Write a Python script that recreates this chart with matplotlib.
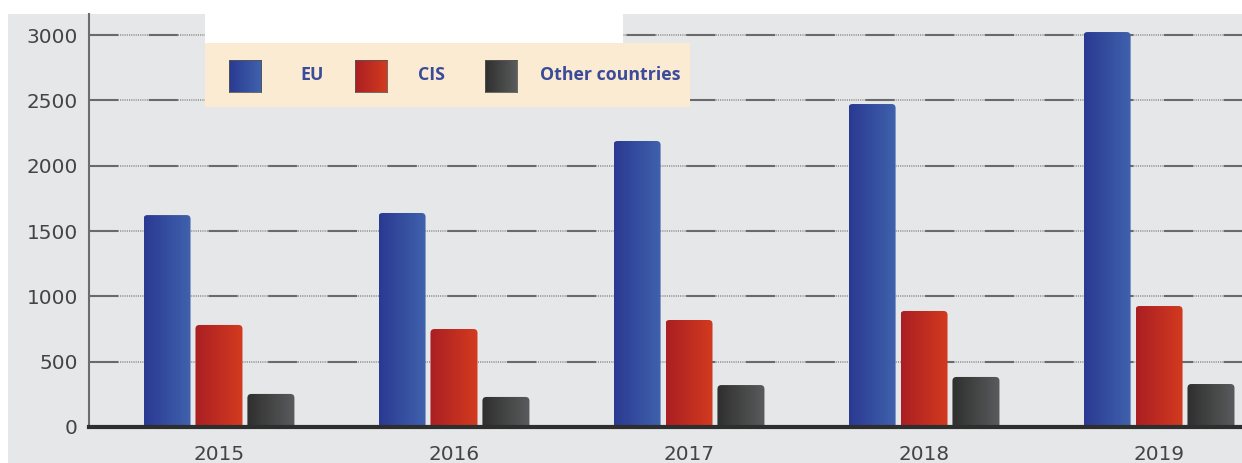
import numpy as np
import matplotlib
matplotlib.use("Agg")
import matplotlib.pyplot as plt
from matplotlib.patches import Rectangle, FancyBboxPatch
from matplotlib.colors import LinearSegmentedColormap

plt.rcParams['lines.scale_dashes'] = False

years = ['2015', '2016', '2017', '2018', '2019']
eu = [1622, 1638, 2189, 2472, 3023]
cis = [781, 750, 819, 888, 926]
other = [253, 230, 321, 383, 329]

series = [
    ('EU', eu, ('#2a3a92', '#4062ad')),
    ('CIS', cis, ('#ab1f23', '#d33b1f')),
    ('Other countries', other, ('#2f2f2f', '#5a5b5c')),
]

W, H = 1242, 463
fig = plt.figure(figsize=(W / 100, H / 100), dpi=100)
fig.patch.set_facecolor('white')


def frect(x0, y0, x1, y1):
    # pixel box (top-left origin) -> figure fraction
    return [x0 / W, 1 - y1 / H, (x1 - x0) / W, (y1 - y0) / H]


# grey panel behind the chart
l, b, w, h = frect(8, 14, W, H)
fig.add_artist(Rectangle((l, b), w, h, transform=fig.transFigure,
                         facecolor='#e6e7e8', edgecolor='none', zorder=0))

ax = fig.add_axes(frect(89, 14, W, 427))
ax.set_facecolor('none')

x = np.arange(len(years))
width = 0.2
step = 0.221
ymax = 3161
xlim = (-0.553, 4.353)

px_x = (xlim[1] - xlim[0]) / (W - 89)
px_y = ymax / (427 - 14)
grad = np.linspace(0, 1, 64).reshape(1, -1)

for i, (name, vals, (c0, c1)) in enumerate(series):
    cmap = LinearSegmentedColormap.from_list(name, [c0, c1])
    for xi, v in zip(x + (i - 1) * step, vals):
        x0 = xi - width / 2
        patch = FancyBboxPatch((x0, -40), width, v + 40,
                               boxstyle='round,pad=0,rounding_size=%f' % (4 * px_x),
                               mutation_aspect=px_y / px_x,
                               facecolor='none', edgecolor='none', zorder=3)
        ax.add_patch(patch)
        im = ax.imshow(grad, cmap=cmap, aspect='auto', zorder=3,
                       extent=(x0, x0 + width, 0, v), interpolation='bilinear')
        im.set_clip_path(patch)

# grid: a fine dotted line under alternating solid dashes
for yv in range(500, 3001, 500):
    ax.axhline(yv, color='#8a8a8a', lw=1.1, dashes=(0.8, 0.8), zorder=1)
    ax.axhline(yv, color='#6a6a6a', lw=1.5, dashes=(21, 22), zorder=1.5)

ax.set_xlim(*xlim)
ax.set_ylim(0, ymax)
ax.set_yticks(range(0, 3001, 500))
ax.set_xticks(x)
ax.set_xticklabels(years)

for s in ['top', 'right']:
    ax.spines[s].set_visible(False)
ax.spines['left'].set_color('#6d6d6d')
ax.spines['left'].set_linewidth(1.5)
ax.spines['bottom'].set_color('#2e2e2e')
ax.spines['bottom'].set_linewidth(3)
ax.spines['bottom'].set_zorder(4)

ax.tick_params(axis='y', length=0, pad=8, labelsize=14.4, labelcolor='#444444')
ax.tick_params(axis='x', length=0, pad=13, labelsize=14.4, labelcolor='#444444')

# legend block
l, b, w, h = frect(205, 0, 623, 43)
fig.add_artist(Rectangle((l, b), w, h, transform=fig.transFigure,
                         facecolor='white', edgecolor='none', zorder=5))
l, b, w, h = frect(205, 43, 690, 107)
fig.add_artist(Rectangle((l, b), w, h, transform=fig.transFigure,
                         facecolor='#fbebd3', edgecolor='none', zorder=5))

swatch_x = [229, 355, 485]
text_x = [300, 418, 540]
for (name, _, (c0, c1)), sx, tx in zip(series, swatch_x, text_x):
    sax = fig.add_axes(frect(sx, 60, sx + 32, 92), zorder=6)
    sax.imshow(grad, cmap=LinearSegmentedColormap.from_list(name, [c0, c1]),
               aspect='auto', interpolation='bilinear')
    sax.set_xticks([])
    sax.set_yticks([])
    for sp in sax.spines.values():
        sp.set_color('#555555')
        sp.set_linewidth(0.6)
    fig.text(tx / W, 1 - 75 / H, name, ha='left', va='center', fontsize=12.8,
             fontweight='bold', family='Open Sans', color='#3a4b9a', zorder=7)

fig.savefig('out.png', dpi=100)
